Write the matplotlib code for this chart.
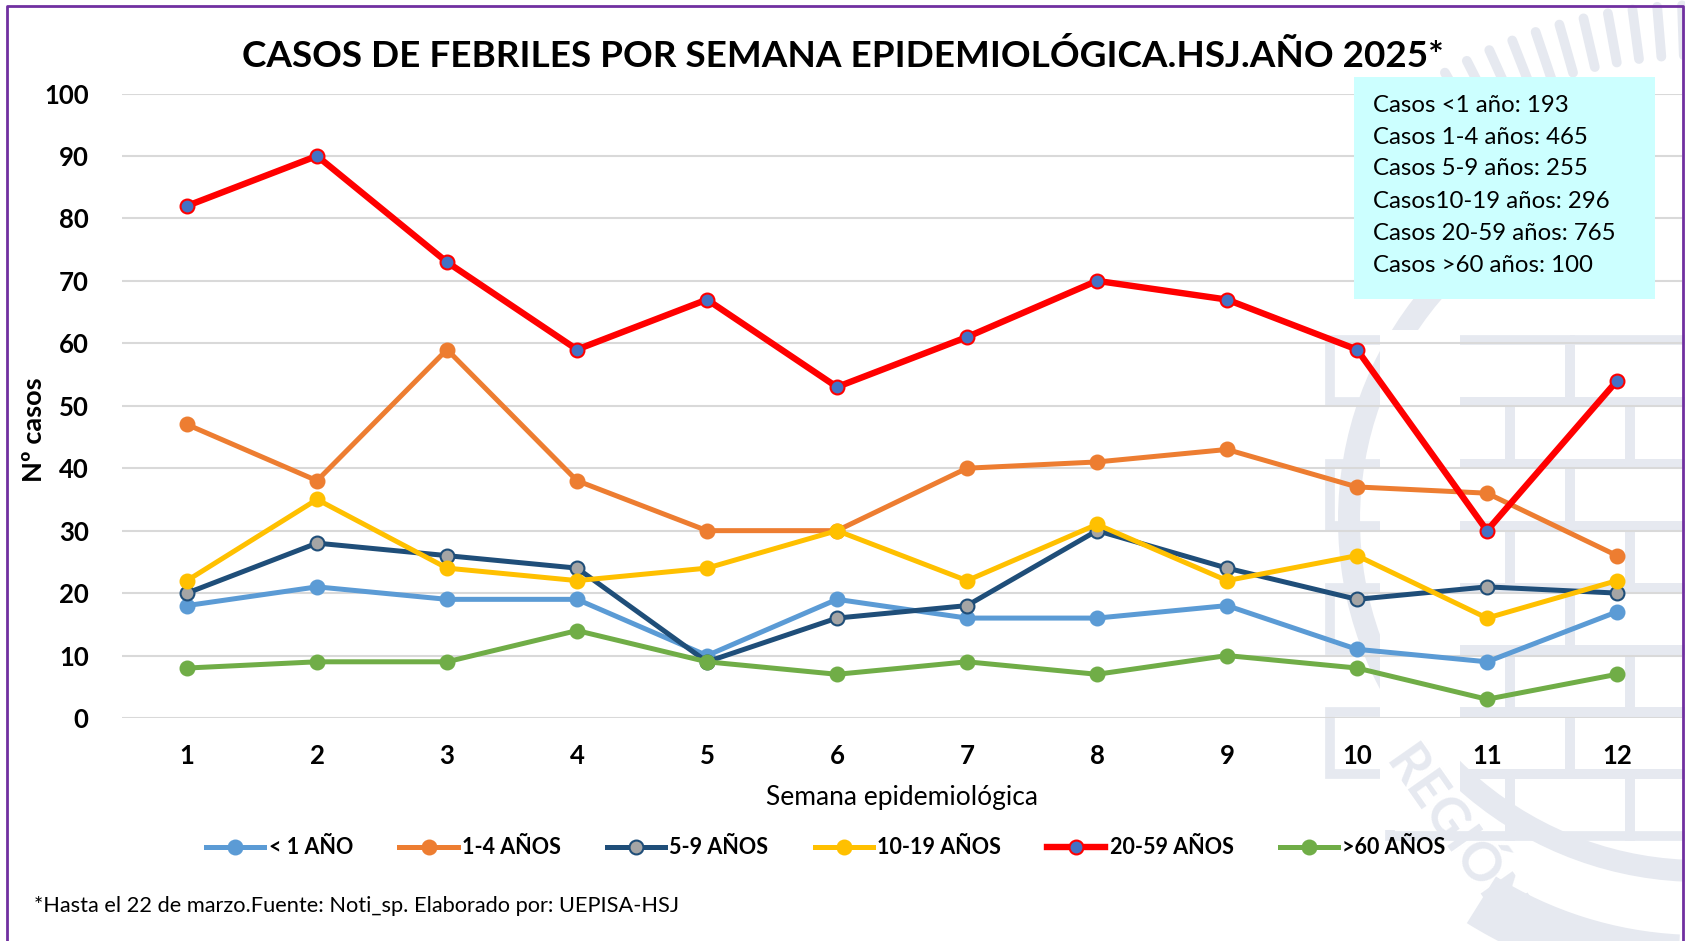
import numpy as np
import matplotlib
matplotlib.use("Agg")
import matplotlib.pyplot as plt
from matplotlib.patches import Rectangle, Wedge

plt.rcParams["font.family"] = ["Lato", "DejaVu Sans"]

# datos
semanas = [1, 2, 3, 4, 5, 6, 7, 8, 9, 10, 11, 12]
menor_1 = [18, 21, 19, 19, 10, 19, 16, 16, 18, 11, 9, 17]
de_1_4 = [47, 38, 59, 38, 30, 30, 40, 41, 43, 37, 36, 26]
de_5_9 = [20, 28, 26, 24, 9, 16, 18, 30, 24, 19, 21, 20]
de_10_19 = [22, 35, 24, 22, 24, 30, 22, 31, 22, 26, 16, 22]
de_20_59 = [82, 90, 73, 59, 67, 53, 61, 70, 67, 59, 30, 54]
mayor_60 = [8, 9, 9, 14, 9, 7, 9, 7, 10, 8, 3, 7]

totales = [
    "Casos <1 año: 193",
    "Casos 1-4 años: 465",
    "Casos 5-9 años: 255",
    "Casos10-19 años: 296",
    "Casos 20-59 años: 765",
    "Casos >60 años: 100",
]

# (etiqueta, valores, color línea, relleno marcador, borde marcador)
series = [
    ("< 1 AÑO", menor_1, "#5B9BD5", "#5B9BD5", "#5B9BD5"),
    ("1-4 AÑOS", de_1_4, "#ED7D31", "#ED7D31", "#ED7D31"),
    ("5-9 AÑOS", de_5_9, "#1F4E79", "#A5A5A5", "#1F4E79"),
    ("10-19 AÑOS", de_10_19, "#FFC000", "#FFC000", "#FFC000"),
    ("20-59 AÑOS", de_20_59, "#FF0000", "#4472C4", "#FF0000"),
    (">60 AÑOS", mayor_60, "#70AD47", "#70AD47", "#70AD47"),
]

W, H = 1685, 941
fig = plt.figure(figsize=(W / 100, H / 100), dpi=100)

# fondo: marca de agua y marco (coordenadas en píxeles)
bg = fig.add_axes([0, 0, 1, 1], zorder=0)
bg.set_xlim(0, W); bg.set_ylim(H, 0); bg.axis("off")
wm = "#E6E9F0"
cx, cy = 1700, 520
bg.add_patch(Wedge((cx, cy), 362, 90, 250, width=22, color=wm, lw=0))
for ang in np.linspace(92, 128, 14):
    a = np.radians(ang)
    r0, r1 = 465, 515
    bg.plot([cx + r0 * np.cos(a), cx + r1 * np.cos(a)],
            [cy - r0 * np.sin(a), cy - r1 * np.sin(a)],
            color=wm, lw=7, solid_capstyle="round")
bg.add_patch(Wedge((cx, cy + 30), 440, 93, 122, width=55, color=wm, lw=0))
for fila, y in enumerate(range(340, 820, 62)):
    off = 0 if fila % 2 == 0 else 60
    for x in range(1450 + off - 120, 1700, 120):
        bg.add_patch(Rectangle((x, y), 120, 62, fill=False, ec=wm, lw=7))
bg.add_patch(Rectangle((1380, 330), 80, 500, color="white", lw=0))
bg.text(1455, 835, "REGIÓN", rotation=-55, fontsize=38, fontweight="bold",
        color=wm, ha="center", va="center")
bg.plot([7, 7, 1683, 1683], [H, 6, 6, H], color="#7030A0", lw=2)

ax = fig.add_axes([122 / W, 1 - 718 / H, (1682 - 122) / W, (718 - 93.5) / H], zorder=1)
ax.set_facecolor("none")

for etiqueta, vals, c, mf, me in series:
    lw = 4.6 if c == "#FF0000" else 3.6
    ax.plot(semanas, vals, color=c, lw=lw, marker="o", ms=10,
            mfc=mf, mec=me, mew=1.5, label=etiqueta, zorder=3)

ax.set_xlim(0.5, 12.5)
ax.set_ylim(0, 100)
ax.set_yticks(range(0, 101, 10))
ax.set_xticks(semanas)
ax.grid(axis="y", color="#D9D9D9", lw=1.5)
ax.set_axisbelow(True)
for s in ax.spines.values():
    s.set_visible(False)
ax.tick_params(length=0)
ax.tick_params(axis="y", pad=24, labelsize=18.5)
ax.tick_params(axis="x", pad=19, labelsize=18.5)
for t in ax.get_xticklabels() + ax.get_yticklabels():
    t.set_fontweight("bold")

fig.text(34 / W, 1 - 430 / H, "Nº casos", rotation=90, fontsize=19.5,
         fontweight="bold", ha="center", va="center")
fig.text(902 / W, 1 - 797 / H, "Semana epidemiológica", fontsize=19,
         ha="center", va="center")
fig.text(843 / W, 1 - 56 / H, "CASOS DE FEBRILES POR SEMANA EPIDEMIOLÓGICA.HSJ.AÑO 2025*",
         fontsize=26.6, fontweight="bold", ha="center", va="center")

fig.patches.append(Rectangle((1354 / W, 1 - 299 / H), 301 / W, 222 / H,
                             transform=fig.transFigure, color="#CCFFFF", lw=0, zorder=2))
for i, linea in enumerate(totales):
    fig.text(1373 / W, 1 - (105 + 32 * i) / H, linea, fontsize=17.3,
             ha="left", va="center", zorder=3)

leg = fig.legend(loc="center", bbox_to_anchor=(826 / W, 1 - 848 / H), ncol=6,
                 frameon=False, handlelength=2.7, columnspacing=2.15,
                 handletextpad=0.2, prop={"weight": "bold", "size": 15.5})

fig.text(34 / W, 1 - 906 / H, "*Hasta el 22 de marzo.Fuente: Noti_sp. Elaborado por: UEPISA-HSJ",
         fontsize=15.7, ha="left", va="center")

fig.savefig("out.png", dpi=100)
